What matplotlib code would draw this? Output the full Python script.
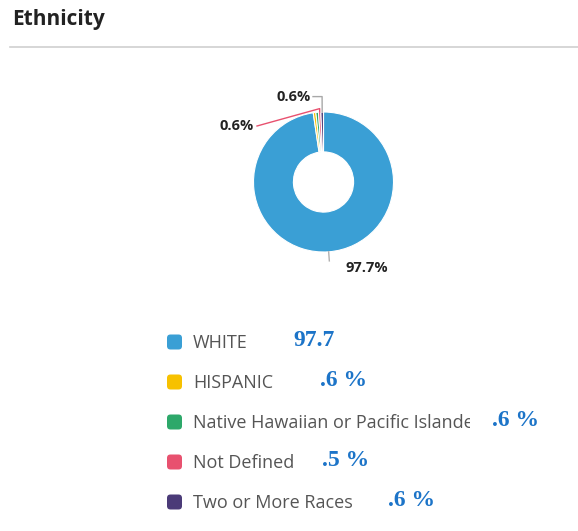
import numpy as np
import matplotlib
matplotlib.use("Agg")
import matplotlib.pyplot as plt
from matplotlib.patches import FancyBboxPatch
from matplotlib.transforms import Bbox, TransformedBbox

# ethnicity breakdown (percent)
groups = ["WHITE", "HISPANIC", "Native Hawaiian or Pacific Islander",
          "Not Defined", "Two or More Races"]
shares = [97.7, 0.6, 0.6, 0.55, 0.6]
colors = ["#3a9fd5", "#f7c100", "#2da86a", "#e8516f", "#4b3b78"]
notes = ["97.7", ".6 %", ".6 %", ".5 %", ".6 %"]

W, H = 578, 531
plt.rcParams['font.family'] = ['Open Sans', 'DejaVu Sans']
fig = plt.figure(figsize=(W / 100, H / 100), dpi=100)

# page layer in pixel coords (y down)
bg = fig.add_axes([0, 0, 1, 1])
bg.set_xlim(0, W)
bg.set_ylim(H, 0)
bg.axis("off")

bg.text(12, 20, "Ethnicity", fontsize=15, fontweight="bold", color="#222222",
        ha="left", va="center")
bg.plot([10, W], [47, 47], color="#d0d0d0", lw=1.2)

# donut
cx, cy, r = 323.5, 182, 70
pax = fig.add_axes([(cx - r) / W, (H - cy - r) / H, 2 * r / W, 2 * r / H])
wedges, _ = pax.pie(shares, colors=colors, startangle=90, counterclock=False,
                    wedgeprops=dict(width=0.57, edgecolor="white", linewidth=0.8))
pax.set_xlim(-1, 1)
pax.set_ylim(-1, 1)
pax.axis("off")


def mid_point(w, rad=1.0):
    a = np.deg2rad((w.theta1 + w.theta2) / 2)
    return rad * np.cos(a), rad * np.sin(a)


# data labels: slice index, connector colour, bend point, label anchor, alignment
labelled = [
    (0, "#b0b0b0", None, (0.31, -1.23), "left"),
    (3, colors[3], None, (-0.95, 0.80), "right"),
    (4, "#a8a8a8", (-0.02, 1.22), (-0.15, 1.22), "right"),
]
for idx, ccol, bend, (lx, ly), ha in labelled:
    x0, y0 = mid_point(wedges[idx], 1.0)
    if idx == 0:
        x1, y1 = mid_point(wedges[idx], 1.13)
        pax.plot([x0, x1], [y0, y1], color=ccol, lw=1, clip_on=False)
        tx, ty = lx, ly
    elif bend is None:
        pax.plot([x0, x0, lx], [y0, y0 + 0.05, ly], color=ccol, lw=1, clip_on=False)
        tx, ty = lx - 0.05, ly
    else:
        pax.plot([x0, bend[0], lx], [y0, bend[1], ly], color=ccol, lw=1, clip_on=False)
        tx, ty = lx - 0.03, ly
    pax.text(tx, ty, f"{shares[idx]:.1f}%", fontsize=10.5, fontweight="bold",
             color="#222222", ha=ha, va="center", clip_on=False)

# legend rows
row_y = 342 + 40 * np.arange(len(groups))
note_x = [293, 320, 492, 322, 388]
clip_box = TransformedBbox(Bbox([[0, 0], [470, H]]), bg.transData)
for i, (name, col) in enumerate(zip(groups, colors)):
    y = row_y[i]
    bg.add_patch(FancyBboxPatch((167, y - 7.5), 15, 15,
                                boxstyle="round,pad=0,rounding_size=3.5",
                                fc=col, ec="none"))
    t = bg.text(193, y + 0.5, name, fontsize=13, color="#555555",
                ha="left", va="center")
    t.set_clip_box(clip_box)
    t.set_clip_on(True)
    bg.text(note_x[i], y - 1, notes[i], fontsize=17, fontweight="bold",
            family="Liberation Serif", color="#1c74c8", ha="left", va="center")

fig.savefig("out.png", dpi=100, facecolor="white")
